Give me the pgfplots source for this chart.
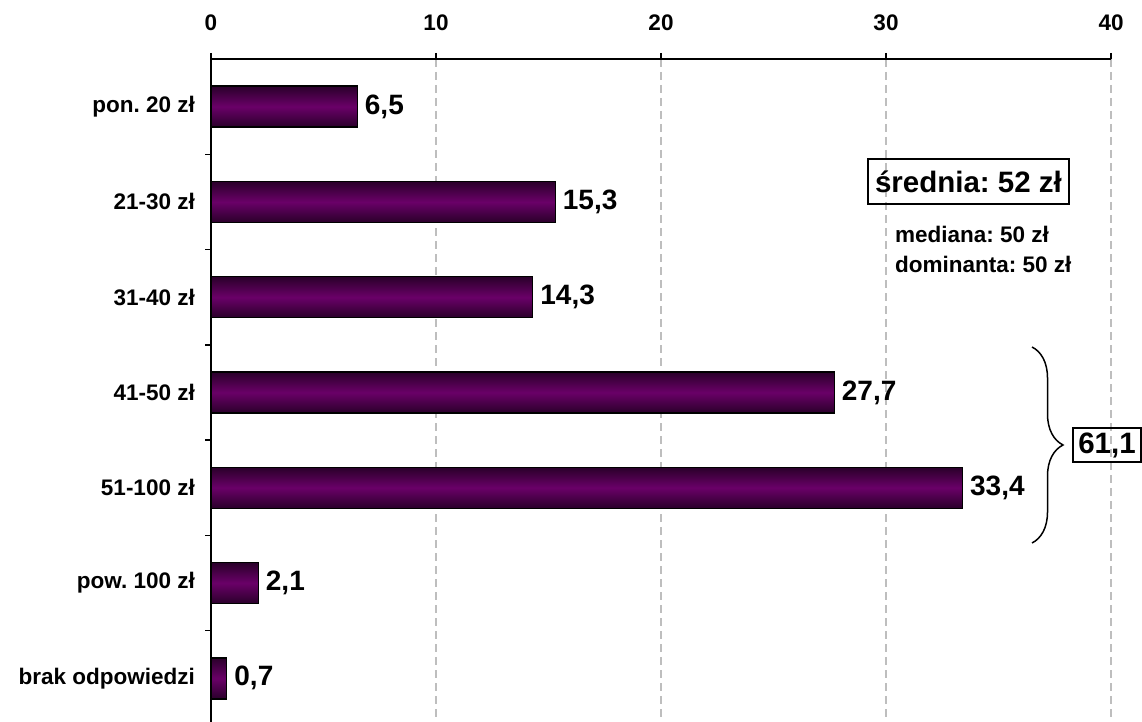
\documentclass[border=0pt]{standalone}
\usepackage{pgfplots}
\pgfplotsset{compat=1.18}
\usepackage{fontspec}
\setmainfont{Liberation Sans}
\usetikzlibrary{decorations.pathreplacing}
\definecolor{barMid}{HTML}{6A0068}
\definecolor{barDark}{HTML}{2A002A}
\definecolor{gridgray}{HTML}{BEBEBE}
\frenchspacing
\begin{document}
\frenchspacing
\begin{tikzpicture}[x=1pt,y=1pt]
\useasboundingbox (0,0) rectangle (1142,722);
\begin{axis}[
  at={(211pt,663pt)}, anchor=north west,
  scale only axis, width=900pt, height=667pt,
  xbar, bar width=41pt, bar shift=0pt,
  xmin=0, xmax=40, ymin=-0.5, ymax=6.5, y dir=reverse,
  axis x line*=top, axis y line*=left,
  axis line style={-, line width=2pt, black},
  tick align=outside, major tick length=6pt,
  tick style={line width=1.5pt, black},
  xtick={0,10,20,30,40},
  ytick={0.5,1.5,2.5,3.5,4.5,5.5}, yticklabels={},
  extra y ticks={0,1,2,3,4,5,6},
  extra y tick labels={pon. 20 zł, 21-30 zł, 31-40 zł, 41-50 zł, 51-100 zł, pow. 100 zł, brak odpowiedzi},
  extra y tick style={major tick length=0pt},
  ticklabel style={font=\fontsize{22.5}{26}\selectfont\bfseries, inner sep=0pt},
  xticklabel style={anchor=south},
  xticklabel shift=22pt,
  yticklabel style={anchor=east},
  yticklabel shift=16pt,
  /pgf/number format/assume math mode=true,
  xmajorgrids,
  grid style={gridgray, line width=2pt, dash pattern=on 8pt off 5pt},
  clip=false,
  point meta=x,
  nodes near coords={\pgfmathprintnumber[fixed,fixed zerofill,precision=1,use comma,assume math mode=true]{\pgfplotspointmeta}},
  nodes near coords style={font=\fontsize{28}{32}\selectfont\bfseries, anchor=west, inner sep=0pt, xshift=7pt, text=black},
  mybar/.style={draw=black, line width=1.3pt, top color=barDark, bottom color=barDark, middle color=barMid},
]
\addplot[mybar] coordinates {(6.5,0)};
\addplot[mybar] coordinates {(15.3,1)};
\addplot[mybar] coordinates {(14.3,2)};
\addplot[mybar] coordinates {(27.7,3)};
\addplot[mybar] coordinates {(33.4,4)};
\addplot[mybar] coordinates {(2.1,5)};
\addplot[mybar] coordinates {(0.7,6)};
\end{axis}
\draw[decorate, decoration={brace, amplitude=31pt}, line width=1.5pt] (1032,375) -- (1032,179);
\node[draw, line width=1.5pt, inner sep=0pt, minimum width=201pt, minimum height=45pt, font=\fontsize{29.5}{34}\selectfont\bfseries] at (968.5,540.5) {średnia: 52 zł};
\node[draw, line width=1.5pt, inner sep=0pt, minimum width=68pt, minimum height=34pt, font=\fontsize{29.5}{34}\selectfont\bfseries] at (1107,277) {61,1};
\node[anchor=base west, inner sep=0pt, font=\fontsize{22.5}{26}\selectfont\bfseries] at (895,479) {mediana: 50 zł};
\node[anchor=base west, inner sep=0pt, font=\fontsize{22.5}{26}\selectfont\bfseries] at (895,449) {dominanta: 50 zł};
\end{tikzpicture}
\end{document}
